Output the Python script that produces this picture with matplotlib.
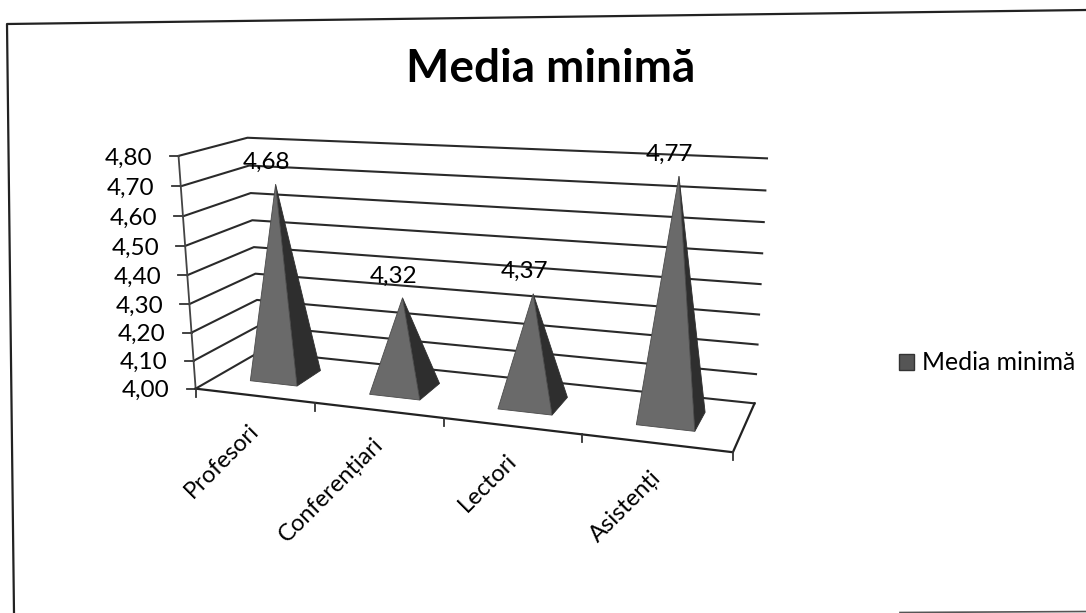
"""Media minima - 3D pyramid chart, flat projection onto pixel coordinates"""
import numpy as np
import matplotlib
matplotlib.use("Agg")
import matplotlib.pyplot as plt
from matplotlib.patches import Patch, Polygon

plt.rcParams['font.family'] = ['Lato', 'DejaVu Sans']

categories = ["Profesori", "Conferențiari", "Lectori", "Asistenți"]
values = [4.68, 4.32, 4.37, 4.77]
value_ticks = [4.0, 4.1, 4.2, 4.3, 4.4, 4.5, 4.6, 4.7, 4.8]
series_name = "Media minimă"

V0 = 4.0
V1 = 4.8
N = len(categories)

# the 3d box (category, value, depth) as it lands on the page, used to fit the camera
world = np.array([[0, V0, 0], [1, V0, 0], [2, V0, 0], [3, V0, 0], [N, V0, 0], [N, V0, 1], [0, V0, 1],
                  [0, V1, 0], [0, V1, 1], [N, V1, 1]], float)
page = np.array([[196, 388], [315, 403], [443, 419], [582, 435], [733, 452], [755, 402], [260, 352],
                 [179, 155], [247, 138], [767, 159]], float)


def fit_camera(w, p):
    rows = []
    rhs = []
    for (a, b, c), (x, y) in zip(w, p):
        rows.append([a, b, c, 1, 0, 0, 0, 0, -x * a, -x * b, -x * c])
        rows.append([0, 0, 0, 0, a, b, c, 1, -y * a, -y * b, -y * c])
        rhs += [x, y]
    sol = np.linalg.lstsq(np.array(rows), np.array(rhs), rcond=None)[0]
    return np.append(sol, 1).reshape(3, 4)


cam = fit_camera(world, page)


def project(c, v, d):
    h = cam @ np.array([c, v, d, 1.0])
    return h[0] / h[2], h[1] / h[2]


fig = plt.figure(figsize=(10.86, 6.13), dpi=100)
ax = fig.add_axes([0, 0, 1, 1])
ax.set_xlim(0, 1086)
ax.set_ylim(613, 0)
ax.axis("off")

# scanned frame of the chart
ax.plot([1086, 7, 14], [10, 24, 613], color="#222222", lw=1.6)
ax.plot([900, 1086], [612.5, 611.5], color="#555555", lw=1.2)

ax.text(551, 69, series_name, ha="center", va="center", fontsize=33, fontweight="bold", color="black")

# gridlines go along the left wall and then the back wall
for v in value_ticks:
    pts = [project(0, v, 0), project(0, v, 1), project(N, v, 1)]
    ax.plot(*zip(*pts), color="#2a2a2a", lw=1.5, zorder=1)
    x, y = pts[0]
    ax.plot([x - 9, x], [y, y], color="#333333", lw=1.3, zorder=1)
    ax.text(x - 26, y + 2, f"{v:.2f}".replace(".", ","), ha="right", va="center", fontsize=17.5)

# axes and floor
ax.plot(*zip(project(0, V0, 0), project(0, V1, 0)), color="#444444", lw=1.3, zorder=1)
ax.plot(*zip(project(0, V0, 0), project(N, V0, 0), project(N, V0, 1)), color="#222222", lw=1.6, zorder=1)
for i in range(N + 1):
    x, y = project(i, V0, 0)
    ax.plot([x, x], [y, y + 8], color="#333333", lw=1.3, zorder=1)

half = 0.2
for i, (name, val) in enumerate(zip(categories, values)):
    c = i + 0.5
    tip = project(c, val, 0.5)
    fl = project(c - half, V0, 0.3)
    fr = project(c + half, V0, 0.3)
    br = project(c + half, V0, 0.7)
    ax.add_patch(Polygon([fr, br, tip], closed=True, facecolor="#2e2e2e", edgecolor="#2e2e2e", lw=0.6, zorder=2))
    ax.add_patch(Polygon([fl, fr, tip], closed=True, facecolor="#6a6a6a", edgecolor="#4a4a4a", lw=0.6, zorder=3))
    ax.annotate(f"{val:.2f}".replace(".", ","), xy=tip, xytext=(-9, 22), textcoords="offset pixels",
                ha="center", va="center", fontsize=17.5, zorder=4)
    ax.annotate(name, xy=project(c, V0, 0), xytext=(-6, -24), textcoords="offset pixels", rotation=45,
                ha="right", va="top", rotation_mode="anchor", fontsize=17)

leg = ax.legend(handles=[Patch(facecolor="#555555", edgecolor="#333333", label=series_name)],
                loc="center left", bbox_to_anchor=(899 / 1086, 1 - 363 / 613), frameon=False,
                fontsize=17.8, handlelength=0.62, handleheight=0.62, handletextpad=0.3,
                borderpad=0, borderaxespad=0)

fig.savefig("out.png", dpi=100)
